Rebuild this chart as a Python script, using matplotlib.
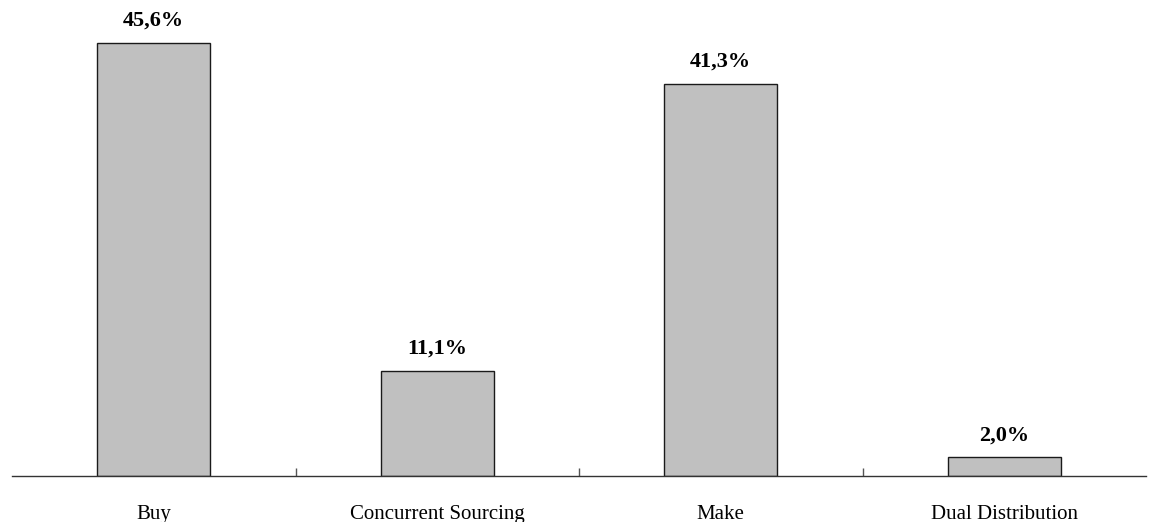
import matplotlib
matplotlib.use("Agg")
import matplotlib.pyplot as plt
import numpy as np

categories = ["Buy", "Concurrent Sourcing", "Make", "Dual Distribution"]
shares = [45.6, 11.1, 41.3, 2.0]
value_labels = ["45,6%", "11,1%", "41,3%", "2,0%"]

plt.rcParams["font.family"] = ["Liberation Serif", "DejaVu Serif"]

fig = plt.figure(figsize=(11.52, 5.22), dpi=100)
ax = fig.add_axes([12 / 1152, 46 / 522, 1134 / 1152, 475 / 522])

x = np.arange(len(categories))
ax.bar(x, shares, width=0.4, color="#c0c0c0", edgecolor="#1a1a1a", linewidth=1.0)

for xi, v, lab in zip(x, shares, value_labels):
    ax.annotate(lab, (xi, v), xytext=(0, 8.5), textcoords="offset points",
                ha="center", va="bottom", fontsize=16, fontweight="bold")

ax.set_xlim(-0.5, len(categories) - 0.5)
ax.set_ylim(0, 50)

for side in ("top", "right", "left"):
    ax.spines[side].set_visible(False)
ax.spines["bottom"].set_color("#333333")
ax.spines["bottom"].set_linewidth(1.0)

ax.set_yticks([])
ax.set_xticks(x)
ax.set_xticklabels(categories, fontsize=15)
ax.tick_params(axis="x", which="major", length=0, pad=21)
ax.set_xticks(x[:-1] + 0.5, minor=True)
ax.tick_params(axis="x", which="minor", direction="in", length=6, width=1, color="#555555")

fig.savefig("out.png", dpi=100)
